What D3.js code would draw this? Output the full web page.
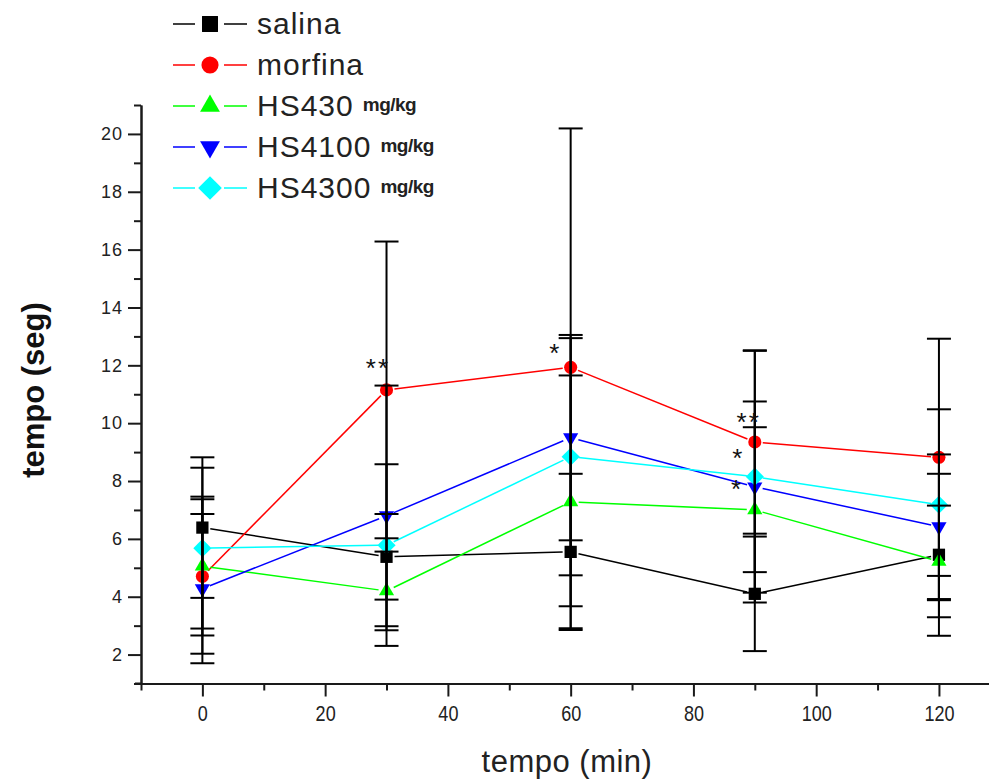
<!DOCTYPE html>
<html><head><meta charset="utf-8">
<script src="https://cdn.jsdelivr.net/npm/d3@7"></script>
<style>body{margin:0;background:#fff;} svg{display:block;}</style>
</head><body>
<svg id="chart" width="989" height="779"></svg>
<script>
// ---- data ----
const times = [0, 30, 60, 90, 120];
const seriesNames = ["salina", "morfina", "HS430", "HS4100", "HS4300"];
const seriesUnits = ["", "", "mg/kg", "mg/kg", "mg/kg"];
const seriesColors = ["#000000", "#ff0000", "#00ff00", "#0000ff", "#00ffff"];
const salina     = [6.39, 5.38, 5.55, 4.10, 5.45];
const salinaErr  = [2.43, 1.48, 2.70, 1.98, 2.80];
const morfina    = [4.70, 11.15, 11.93, 9.35, 8.82];
const morfinaErr = [2.67, 5.13, 8.26, 3.17, 4.10];
const hs430      = [5.06, 4.20, 7.28, 7.00, 5.22];
const hs430Err   = [2.40, 1.36, 4.37, 2.86, 1.93];
const hs4100     = [4.28, 6.80, 9.50, 7.80, 6.42];
const hs4100Err  = [2.58, 4.50, 3.55, 2.95, 2.50];
const hs4300     = [5.68, 5.78, 8.84, 8.15, 7.18];
const hs4300Err  = [2.78, 2.80, 4.10, 4.35, 3.30];
const xMajorTicks = [0, 20, 40, 60, 80, 100, 120];
const xMinorTicks = [-10, 10, 30, 50, 70, 90, 110, 130];
const yMajorTicks = [2, 4, 6, 8, 10, 12, 14, 16, 18, 20];
const yMinorTicks = [1, 3, 5, 7, 9, 11, 13, 15, 17, 19, 21];
const annotTimes  = [28.6, 57.5, 89.0, 87.3, 87.1];
const annotValues = [12.05, 12.57, 10.18, 8.93, 7.86];
const annotLabels = ["**", "*", "**", "*", "*"];

const means = [salina, morfina, hs430, hs4100, hs4300];
const errs = [salinaErr, morfinaErr, hs430Err, hs4100Err, hs4300Err];

// ---- layout ----
const svg = d3.select("#chart");
const x = d3.scaleLinear().domain([-10, 130]).range([141, 141 + 140 * 6.138]);
const y = d3.scaleLinear().domain([1, 21]).range([683.5, 105]);

const symbolGen = [
  {type: d3.symbolSquare, size: 150, rot: 0},
  {type: d3.symbolCircle, size: 135, rot: 0},
  {type: d3.symbolTriangle, size: 100, rot: 0},
  {type: d3.symbolTriangle, size: 100, rot: 180},
  {type: d3.symbolSquare, size: 165, rot: 45}
];

// ---- axes ----
const axisColor = "#1a1a1a";
function styleAxis(g) {
  g.selectAll("path.domain").attr("stroke", axisColor).attr("stroke-width", 2);
  g.selectAll(".tick line").attr("stroke", axisColor).attr("stroke-width", 2);
}
const gyMinor = svg.append("g").attr("transform", "translate(141,0)")
  .call(d3.axisLeft(y).tickValues(yMinorTicks).tickSize(7).tickSizeOuter(0).tickFormat(""));
styleAxis(gyMinor);
const gy = svg.append("g").attr("transform", "translate(141,0)")
  .call(d3.axisLeft(y).tickValues(yMajorTicks).tickSize(13).tickSizeOuter(0).tickPadding(5).tickFormat(d3.format("d")));
styleAxis(gy);
gy.selectAll("text").attr("font-family", "Liberation Sans, Arial, sans-serif")
  .attr("font-size", 18).attr("fill", "#222").attr("letter-spacing", 1);

const gxMinor = svg.append("g").attr("transform", "translate(0,683.5)")
  .call(d3.axisBottom(x).tickValues(xMinorTicks).tickSize(7).tickSizeOuter(0).tickFormat(""));
styleAxis(gxMinor);
const gx = svg.append("g").attr("transform", "translate(0,683.5)")
  .call(d3.axisBottom(x).tickValues(xMajorTicks).tickSize(13).tickSizeOuter(0).tickPadding(9).tickFormat(d3.format("d")));
styleAxis(gx);
gx.selectAll(".tick text").attr("font-family", "Liberation Sans, Arial, sans-serif")
  .attr("font-size", 22).attr("fill", "#222")
  .attr("transform", "scale(0.82,1)").attr("x", 0);
// small extension of axis beyond origin
svg.append("line").attr("x1", 135).attr("x2", 141).attr("y1", y(1)).attr("y2", y(1))
  .attr("stroke", axisColor).attr("stroke-width", 2);

// axis titles
svg.append("text").attr("x", 567).attr("y", 772).attr("text-anchor", "middle")
  .attr("font-family", "Liberation Sans, Arial, sans-serif").attr("font-size", 31)
  .attr("letter-spacing", 0.5).attr("fill", "#222").text("tempo (min)");
svg.append("text").attr("transform", "translate(44,390) rotate(-90)").attr("text-anchor", "middle")
  .attr("font-family", "Liberation Sans, Arial, sans-serif").attr("font-size", 31)
  .attr("font-weight", "bold").attr("fill", "#111").text("tempo (seg)");

// ---- series lines (with gaps at the markers) ----
const gap = 8;
means.forEach((vals, si) => {
  const pts = times.map((t, i) => [x(t), y(vals[i])]);
  for (let i = 0; i < pts.length - 1; i++) {
    const [x1, y1] = pts[i], [x2, y2] = pts[i + 1];
    const L = Math.hypot(x2 - x1, y2 - y1);
    const ux = (x2 - x1) / L, uy = (y2 - y1) / L;
    svg.append("line")
      .attr("x1", x1 + ux * gap).attr("y1", y1 + uy * gap)
      .attr("x2", x2 - ux * gap).attr("y2", y2 - uy * gap)
      .attr("stroke", seriesColors[si]).attr("stroke-width", 1.5);
  }
});

// ---- markers ----
means.forEach((vals, si) => {
  const sg = symbolGen[si];
  svg.append("g").selectAll("path").data(times).join("path")
    .attr("d", d3.symbol().type(sg.type).size(sg.size))
    .attr("transform", (t, i) => `translate(${x(t)},${y(vals[i])}) rotate(${sg.rot})`)
    .attr("fill", seriesColors[si]);
});

// ---- error bars (black) ----
const capHalf = 12;
means.forEach((vals, si) => {
  const g = svg.append("g").attr("stroke", "#000").attr("stroke-width", 2);
  times.forEach((t, i) => {
    const lo = Math.max(1, vals[i] - errs[si][i]), hi = vals[i] + errs[si][i];
    g.append("line").attr("x1", x(t)).attr("x2", x(t)).attr("y1", y(lo)).attr("y2", y(hi));
    g.append("line").attr("x1", x(t) - capHalf).attr("x2", x(t) + capHalf).attr("y1", y(hi)).attr("y2", y(hi));
    if (vals[i] - errs[si][i] > 1)
      g.append("line").attr("x1", x(t) - capHalf).attr("x2", x(t) + capHalf).attr("y1", y(lo)).attr("y2", y(lo));
  });
});

// ---- significance annotations ----
annotLabels.forEach((lab, i) => {
  svg.append("text").attr("x", x(annotTimes[i])).attr("y", y(annotValues[i]) + 13)
    .attr("text-anchor", "middle").attr("font-family", "Liberation Sans, Arial, sans-serif")
    .attr("font-size", 26).attr("letter-spacing", 2).attr("fill", "#111").text(lab);
});

// ---- legend ----
const legend = svg.append("g");
seriesNames.forEach((name, si) => {
  const cy = 24 + si * 41;
  legend.append("line").attr("x1", 173).attr("x2", 195).attr("y1", cy).attr("y2", cy)
    .attr("stroke", seriesColors[si]).attr("stroke-width", 1.5);
  legend.append("line").attr("x1", 224).attr("x2", 247).attr("y1", cy).attr("y2", cy)
    .attr("stroke", seriesColors[si]).attr("stroke-width", 1.5);
  const sg = symbolGen[si];
  legend.append("path").attr("d", d3.symbol().type(sg.type).size(sg.size * 1.7))
    .attr("transform", `translate(210,${cy}) rotate(${sg.rot})`).attr("fill", seriesColors[si]);
  const txt = legend.append("text").attr("x", 257).attr("y", cy + 10)
    .attr("font-family", "Liberation Sans, Arial, sans-serif").attr("font-size", 30)
    .attr("letter-spacing", 1).attr("fill", "#222").text(name);
  if (seriesUnits[si]) {
    txt.append("tspan").attr("dx", 9).attr("dy", -5).attr("font-size", 19)
      .attr("font-weight", "bold").attr("letter-spacing", -0.5).text(seriesUnits[si]);
  }
});
</script>
</body></html>
